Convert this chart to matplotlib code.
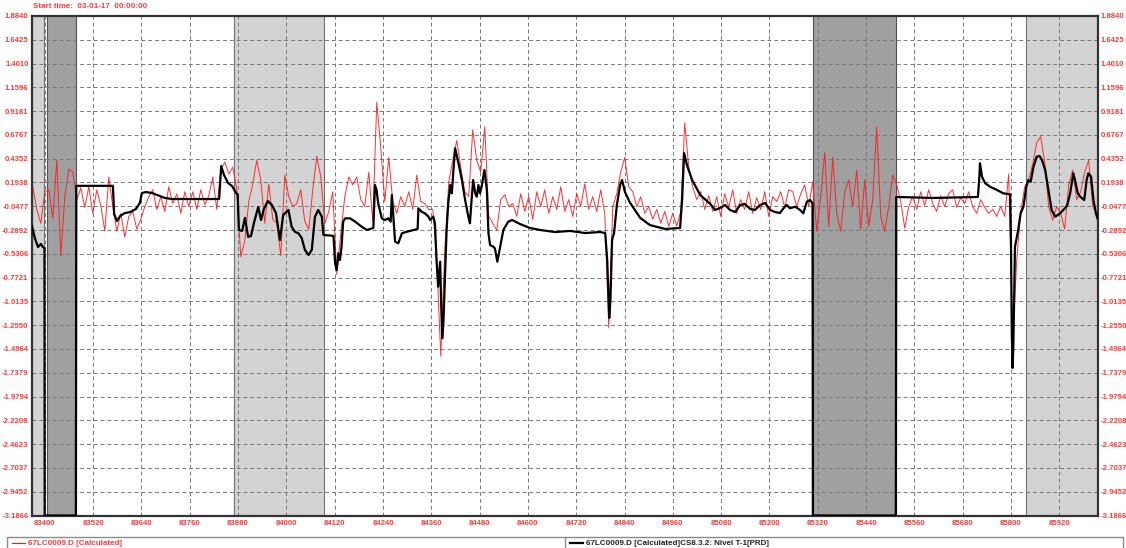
import numpy as np
import matplotlib.pyplot as plt
from matplotlib.lines import Line2D
from matplotlib.patches import Rectangle

plt.rcParams['font.family'] = ['Liberation Sans', 'DejaVu Sans']

start_label = 'Start time:  03-01-17  00:00:00'
series_names = ['67LC0009.D [Calculated]',
                '67LC0009.D [Calculated]CS8.3.2: Nivel T-1[PRD]']

# Axis ranges and ticks
y_min, y_max = -3.1866, 1.8840
t_min, t_max = 83368, 86015
x_ticks = list(range(83400, 85921, 120))
y_tick_labels = ['-3.1866', '-2.9452', '-2.7037', '-2.4623', '-2.2208', '-1.9794',
                 '-1.7379', '-1.4964', '-1.2550', '-1.0135', '-0.7721', '-0.5306',
                 '-0.2892', '-0.0477', '0.1938', '0.4352', '0.6767', '0.9181',
                 '1.1596', '1.4010', '1.6425', '1.8840']

# Shaded periods
light_periods = [(83368, 83399), (83871, 84093), (85837, 86015)]
dark_periods = [(83405, 83477), (85308, 85515)]

# Raw calculated signal (red), sampled evenly between these times
red_start, red_end = 83370, 86013
red_vals = [
    0.15, -0.08, -0.22, 0.10, 0.12, -0.17, 0.42, -0.55, 0.05, 0.33,
    0.30, 0.02, 0.14, -0.06, 0.15, -0.12, 0.12, -0.04, -0.30, 0.25,
    -0.05, -0.30, -0.12, -0.36, -0.15, -0.10, -0.28, -0.18, -0.05, 0.05,
    0.12, -0.08, 0.05, -0.10, 0.15, -0.02, 0.08, -0.12, 0.10, -0.05,
    0.10, -0.08, 0.12, -0.03, 0.06, 0.25, -0.08, 0.32, 0.40, 0.28,
    0.35, 0.12, -0.56, -0.40, 0.00, 0.18, 0.42, 0.22, -0.22, 0.18,
    -0.18, -0.22, -0.55, 0.27, 0.05, -0.05, -0.02, 0.12, -0.20, -0.28,
    0.12, 0.46, 0.25, -0.22, -0.10, 0.10, -0.74, -0.32, 0.05, 0.25,
    0.17, 0.25, 0.02, -0.05, 0.30, -0.20, 1.01, 0.55, 0.00, 0.45,
    0.00, -0.12, 0.05, -0.05, 0.10, -0.08, 0.27, 0.00, -0.02, -0.08,
    -0.08, -0.60, -1.57, -0.49, 0.20, 0.42, 0.62, 0.35, 0.10, 0.05,
    0.73, 0.42, 0.30, 0.76, -0.15, -0.22, -0.29, 0.02, 0.07, -0.05,
    -0.02, -0.15, 0.08, -0.10, 0.05, -0.18, 0.10, -0.05, 0.12, -0.12,
    0.05, -0.08, 0.15, -0.10, 0.02, -0.15, 0.08, -0.05, 0.18, -0.08,
    0.05, -0.10, 0.12, -0.12, -1.28, -0.05, 0.08, 0.30, 0.45, 0.15,
    0.10, -0.05, 0.05, -0.12, -0.05, -0.18, -0.08, -0.22, -0.10, -0.25,
    -0.12, -0.25, -0.10, 0.80, 0.35, 0.15, 0.02, 0.10, -0.08, 0.06,
    -0.10, 0.05, -0.15, 0.08, -0.06, 0.12, -0.12, 0.02, -0.08, 0.10,
    -0.12, 0.04, -0.08, 0.10, -0.15, 0.05, 0.00, 0.10, -0.06, 0.12,
    0.10, -0.05, 0.08, 0.17, -0.05, 0.20, -0.30, 0.05, 0.50, -0.25,
    0.45, -0.12, -0.30, 0.10, 0.22, -0.05, 0.32, -0.28, 0.22, -0.25,
    0.02, 0.76, -0.15, -0.30, -0.05, 0.27, 0.17, 0.00, -0.27, -0.05,
    0.05, -0.08, 0.10, -0.04, 0.12, -0.02, -0.10, 0.06, -0.05, 0.08,
    0.12, -0.06, 0.04, -0.02, 0.10, -0.05, -0.12, 0.02, -0.06, -0.12,
    -0.08, -0.15, -0.05, -0.15, 0.28, -1.40, -0.60, -0.10, 0.15, 0.22,
    0.38, 0.60, 0.66, 0.40, -0.05, -0.19, -0.05, -0.12, -0.28, 0.17,
    0.32, 0.02, 0.10, 0.30, 0.42, -0.05, -0.12,
]

# Filtered level (black), (time, value); no data is drawn on the axis floor
black_pts = [
    (83368, -0.248), (83375, -0.370), (83383, -0.461), (83390, -0.430), (83395, -0.461), (83399, -0.471),
    (83399.5, y_min), (83477, y_min),
    (83478, 0.160), (83569, 0.160), (83572, -0.126), (83579, -0.197), (83587, -0.146), (83599, -0.116),
    (83612, -0.106), (83626, -0.075), (83636, -0.014), (83641, 0.087), (83651, 0.097), (83666, 0.087),
    (83698, 0.037), (83716, 0.026), (83833, 0.026),
    (83838, 0.361), (83845, 0.270), (83855, 0.189), (83865, 0.158), (83875, 0.087), (83879, 0.067),
    (83882, -0.288), (83890, -0.298), (83897, -0.166), (83905, -0.359), (83912, -0.349), (83920, -0.207),
    (83930, -0.055), (83937, -0.187), (83944, -0.075), (83954, 0.006), (83964, -0.035), (83974, -0.116),
    (83984, -0.390), (83992, -0.136), (84005, -0.085), (84013, -0.255), (84021, -0.306), (84030, -0.322),
    (84038, -0.370), (84046, -0.491), (84055, -0.542), (84063, -0.491), (84071, -0.153), (84079, -0.085),
    (84088, -0.153), (84092, -0.339), (84113, -0.346), (84117, -0.349),
    (84121, -0.626), (84125, -0.694), (84129, -0.525), (84133, -0.593), (84137, -0.458), (84141, -0.204),
    (84146, -0.170), (84158, -0.170), (84171, -0.204), (84187, -0.255), (84200, -0.288), (84216, -0.268),
    (84220, 0.168), (84224, 0.118), (84228, -0.017), (84237, -0.170), (84245, -0.187), (84253, -0.170),
    (84259, -0.204), (84262, 0.067), (84270, -0.407), (84278, -0.423), (84287, -0.322), (84299, -0.306),
    (84324, -0.281), (84326, -0.278),
    (84328, -0.068), (84336, -0.103), (84344, -0.119), (84353, -0.153), (84357, -0.187), (84365, -0.153),
    (84369, -0.220), (84373, -0.593), (84377, -0.864), (84382, -0.610), (84384, -0.965), (84387, -1.388),
    (84390, -1.235), (84394, -0.762), (84398, -0.288), (84402, -0.017), (84407, 0.168), (84411, 0.084),
    (84415, 0.321), (84419, 0.541), (84423, 0.473), (84431, 0.321), (84436, 0.219), (84444, 0.016),
    (84452, -0.153), (84456, -0.220), (84460, 0.016), (84464, 0.219), (84469, 0.084), (84473, 0.050),
    (84477, 0.168), (84481, 0.084), (84485, 0.151), (84492, 0.321), (84498, 0.118), (84502, -0.322),
    (84506, -0.441), (84514, -0.458), (84518, -0.474), (84524, -0.610), (84531, -0.458), (84539, -0.288),
    (84551, -0.204), (84561, -0.187),
    (84580, -0.227), (84605, -0.268), (84630, -0.288), (84667, -0.309), (84705, -0.298), (84742, -0.319),
    (84779, -0.309), (84792, -0.319), (84797, -0.593), (84802, -1.182), (84805, -0.999), (84809, -0.390),
    (84814, -0.319), (84821, -0.035), (84829, 0.168), (84834, 0.219), (84841, 0.097), (84854, -0.014),
    (84879, -0.166), (84903, -0.238), (84941, -0.278), (84978, -0.268),
    (84983, 0.016), (84988, 0.493), (84995, 0.371), (85008, 0.219), (85028, 0.067), (85053, -0.024),
    (85065, -0.085), (85077, -0.065), (85090, -0.035), (85102, -0.085), (85115, -0.106), (85127, -0.035),
    (85139, -0.024), (85152, -0.075), (85164, -0.085), (85177, -0.035), (85189, -0.014), (85202, -0.085),
    (85214, -0.106), (85226, -0.116), (85235, -0.068), (85243, -0.035), (85251, -0.068), (85264, -0.052),
    (85276, -0.085), (85284, -0.119), (85293, -0.001), (85301, 0.016), (85307, -0.017),
    (85308, y_min), (85514, y_min),
    (85515, 0.047), (85607, 0.037), (85718, 0.047), (85722, 0.287), (85723, 0.389), (85728, 0.253),
    (85736, 0.186), (85748, 0.151), (85765, 0.118), (85781, 0.084), (85798, 0.074), (85800, -0.390),
    (85802, -1.303), (85804, -1.689), (85806, -1.456), (85810, -0.458), (85818, -0.288), (85824, -0.119),
    (85831, -0.052), (85838, 0.151), (85843, 0.219), (85849, 0.202), (85856, 0.354), (85864, 0.456),
    (85871, 0.463), (85877, 0.422), (85885, 0.321), (85893, 0.118), (85901, -0.085), (85910, -0.153),
    (85922, -0.119), (85934, -0.068), (85940, -0.035), (85947, 0.084), (85955, 0.287), (85959, 0.219),
    (85966, 0.084), (85972, 0.050), (85982, 0.016), (85988, 0.219), (85992, 0.287), (85999, 0.253),
    (86005, 0.016), (86011, -0.119), (86015, -0.170),
]

label_red = '#ff3b3b'
W, H = 1126, 548

fig = plt.figure(figsize=(W / 100, H / 100), dpi=100)
ax = fig.add_axes([32 / W, 1 - 515.5 / H, 1065.5 / W, 499.5 / H])

# Shaded periods with thin edges
for t0, t1 in light_periods:
    ax.axvspan(t0, t1, color='#d3d3d3', lw=0, zorder=0.5)
    ax.axvline(t0, color='#707070', lw=0.8, zorder=0.6)
    ax.axvline(t1, color='#707070', lw=0.8, zorder=0.6)
for t0, t1 in dark_periods:
    ax.axvspan(t0, t1, color='#a0a0a0', lw=0, zorder=0.5)
    ax.axvline(t0, color='#505050', lw=0.8, zorder=0.6)
    ax.axvline(t1, color='#505050', lw=0.8, zorder=0.6)

# Series
red_t = np.linspace(red_start, red_end, len(red_vals))
ax.plot(red_t, red_vals, color='#ff1a1a', lw=0.7, alpha=0.9, zorder=2)
black_t, black_v = np.array(black_pts).T
ax.plot(black_t, black_v, color='black', lw=1.6, zorder=3,
        solid_joinstyle='round')

ax.set_xlim(t_min, t_max)
ax.set_ylim(y_min, y_max)

y_ticks = np.linspace(y_min, y_max, len(y_tick_labels))
ax.set_yticks(y_ticks)
ax.set_yticklabels(y_tick_labels)
ax.set_xticks(x_ticks)
ax.set_xticklabels([str(t) for t in x_ticks])
ax.tick_params(axis='both', length=0, labelsize=5.6, labelcolor=label_red)
ax.tick_params(axis='y', pad=3, labelright=True)
ax.tick_params(axis='x', pad=3.5)
for t in ax.xaxis.get_major_ticks():
    t.label1.set_fontweight('bold')
for t in ax.yaxis.get_major_ticks():
    t.label1.set_fontweight('bold')
    t.label2.set_fontweight('bold')
    t.label2.set_color(label_red)
    t.set_pad(2.5)

ax.grid(True, color='#777777', lw=0.7, ls=(0, (4, 3)))
for sp in ax.spines.values():
    sp.set_linewidth(1.6)
    sp.set_color('#333333')

fig.text(33 / W, 1 - 7 / H, start_label, fontsize=5.8, fontweight='bold',
         color=label_red, va='center', ha='left')

# Legend strip along the bottom
legend_ax = fig.add_axes([0, 0, 1, 1])
legend_ax.set_xlim(0, W)
legend_ax.set_ylim(H, 0)
legend_ax.axis('off')
legend_ax.add_patch(Rectangle((6.7, 536.7), 1116.6, 20, fill=False,
                              edgecolor='#8a8a8a', lw=1))
legend_ax.add_line(Line2D([565, 565], [536.7, 548], color='#8a8a8a', lw=1))
legend_ax.add_line(Line2D([12, 25], [543.3, 543.3], color='#ff1a1a', lw=0.8))
legend_ax.text(28, 543.3, series_names[0], fontsize=5.8, fontweight='bold',
               color=label_red, va='center', ha='left')
legend_ax.add_line(Line2D([570, 583], [543.3, 543.3], color='black', lw=1.6))
legend_ax.text(586, 543.3, series_names[1], fontsize=5.8, fontweight='bold',
               color='#222222', va='center', ha='left')

fig.savefig('out.png', dpi=100)
